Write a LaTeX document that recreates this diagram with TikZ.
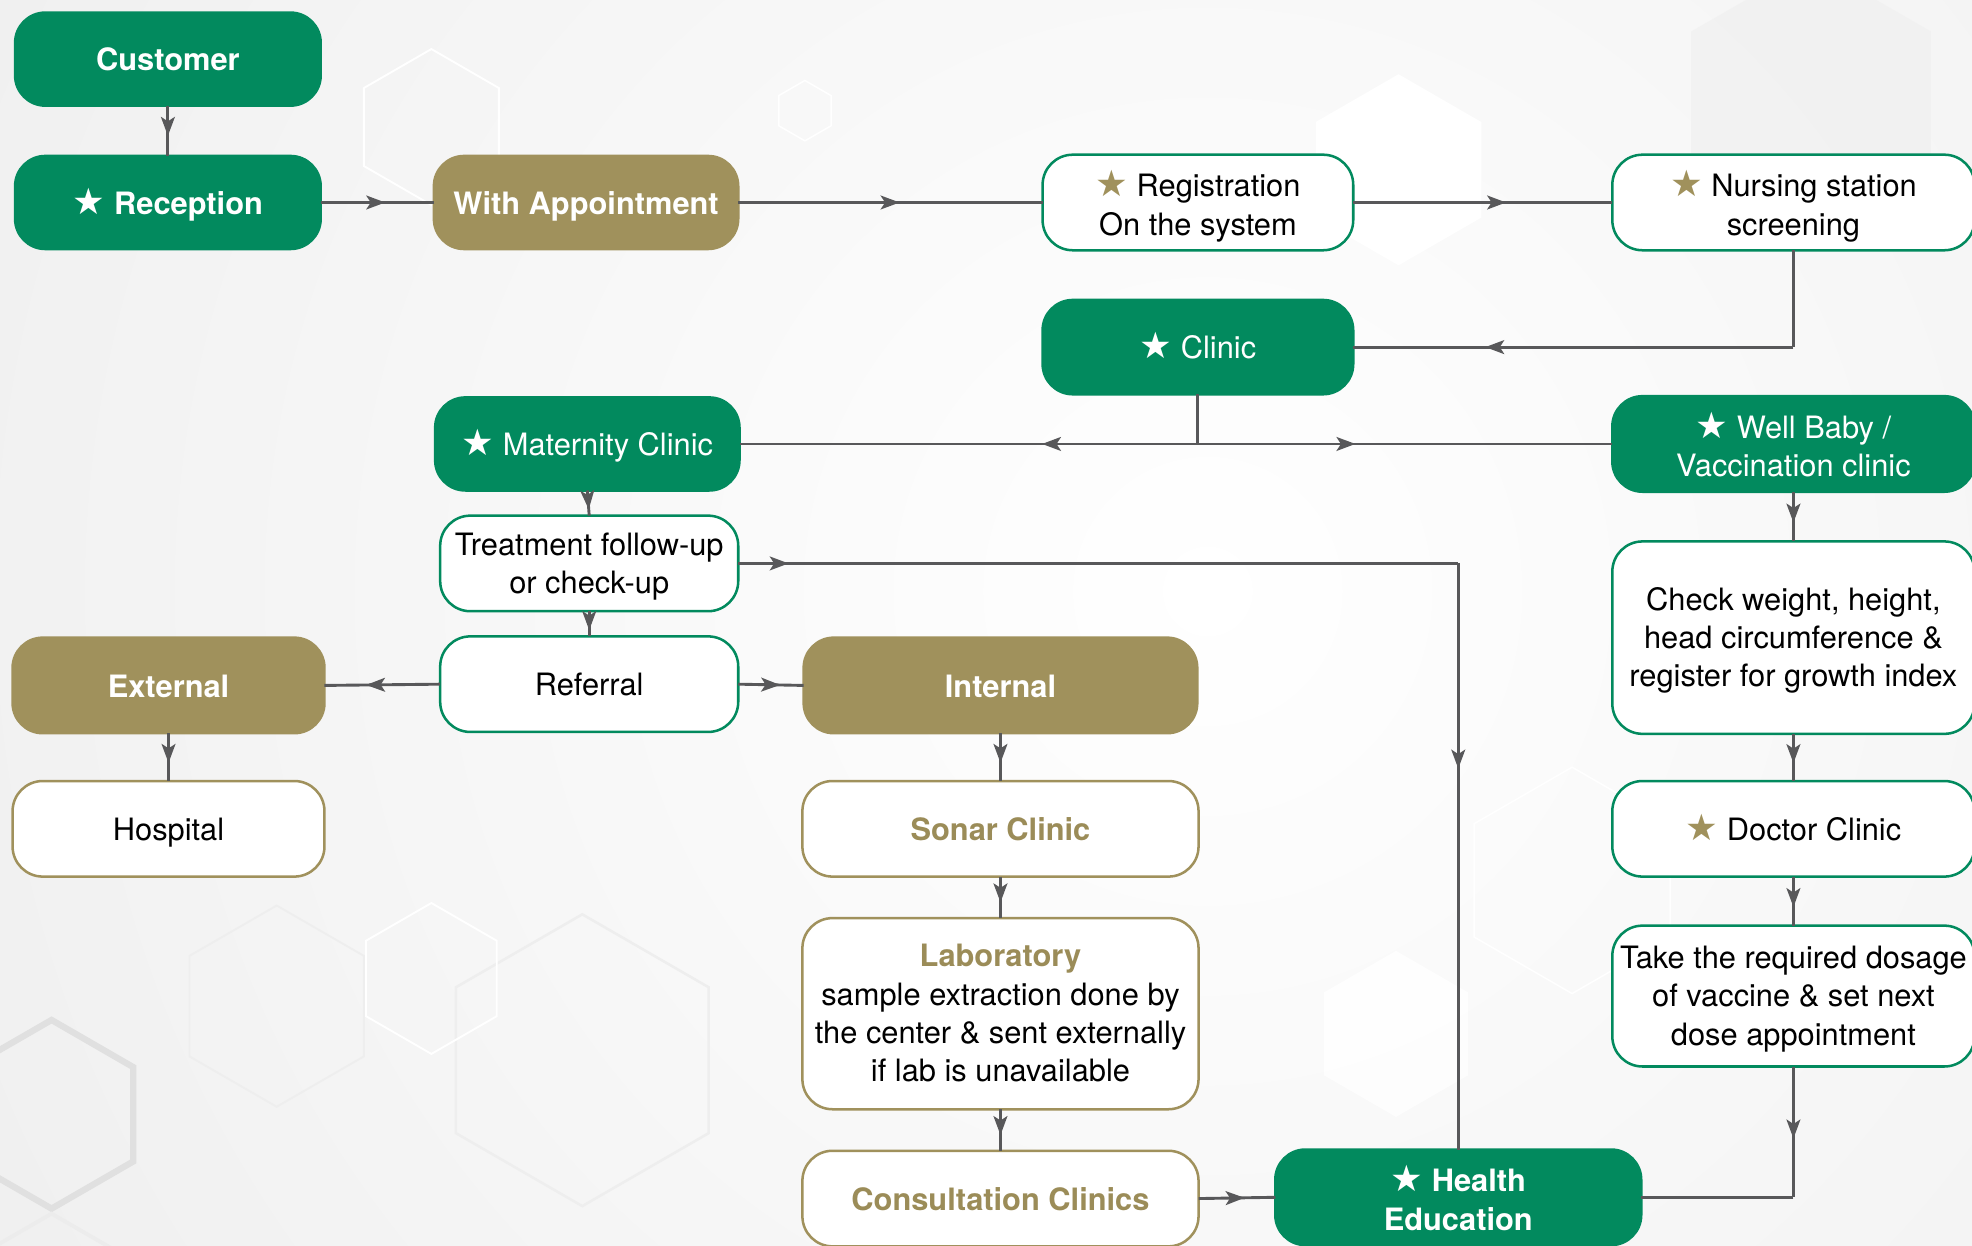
\documentclass[tikz,border=0pt]{standalone}
\usepackage{fontspec}
\setmainfont{TeX Gyre Heros}
\newfontfamily\starfont{DejaVu Sans}
\usetikzlibrary{arrows.meta,decorations.markings,calc}
\definecolor{mgreen}{RGB}{2,138,94}
\definecolor{mgold}{RGB}{160,145,92}
\definecolor{mgoldtext}{RGB}{155,140,88}
\definecolor{mline}{RGB}{88,88,90}
\definecolor{bgout}{RGB}{234,234,234}
\definecolor{hexgray}{RGB}{224,224,224}
\definecolor{hexfaint}{RGB}{238,238,238}
\newcommand{\stw}{{\starfont\fontsize{29}{29}\selectfont\color{white}★}}
\newcommand{\stg}{{\starfont\fontsize{29}{29}\selectfont\color{mgold}★}}
\newcommand{\tstrut}{\rule{0pt}{29pt}}
\newcommand{\tstrutb}{\rule{0pt}{24.5pt}}
\newcommand{\bstrut}{\rule[-7.4pt]{0pt}{0pt}}
\newcommand{\hexat}[4]{\path[#4] (#1,#2) +(30:#3) -- +(90:#3) -- +(150:#3) -- +(210:#3) -- +(270:#3) -- +(330:#3) -- cycle;}
\tikzset{
  box/.style={rectangle, rounded corners=24pt, line width=2pt, align=center,
    inner sep=0pt, outer sep=0pt, font=\fontsize{24.5}{30.5}\selectfont,
    execute at begin node={\rule{0pt}{26pt}},
    execute at end node={\rule[-7.4pt]{0pt}{0pt}}},
  gbox/.style={box, fill=mgreen, draw=mgreen, text=white},
  obox/.style={box, fill=mgold, draw=mgold, text=white, font=\fontsize{24.5}{30.5}\selectfont\bfseries},
  wgbox/.style={box, fill=white, draw=mgreen, text=black},
  wobox/.style={box, fill=white, draw=mgold, text=black},
  conn/.style={draw=mline, line width=2.3pt},
  ar/.style={postaction={decorate}, decoration={markings,
    mark=at position #1 with {\arrow[color=mline]{Stealth[length=15pt,width=11pt,inset=3.5pt]}}}},
}
\begin{document}
\begin{tikzpicture}[x=1pt,y=-1pt]
\useasboundingbox (0,0) rectangle (1568,990.7);
% background
\fill[bgout] (-5,-5) rectangle (1575,996);
\begin{scope}
\clip (0,0) rectangle (1568,991);
\shade[inner color=white, outer color=bgout] (960,470) circle (1500);
\hexat{41}{886}{75}{draw=hexgray, line width=5pt}
\hexat{41}{1040}{75}{draw=hexgray!60, line width=3pt}
\hexat{220}{800}{80}{draw=hexfaint, line width=1.5pt}
\hexat{463}{843}{116}{draw=hexfaint, line width=2pt}
\hexat{343}{778}{60}{draw=white, line width=1.5pt}
\hexat{343}{101}{62}{draw=white, line width=1.5pt}
\hexat{640}{88}{24}{draw=white, line width=1.2pt}
\hexat{1112}{135}{76}{fill=white}
\hexat{1110}{822}{66}{fill=white, opacity=0.8}
\hexat{1440}{80}{110}{fill=hexfaint, opacity=0.5}
\hexat{1250}{700}{90}{draw=white, line width=1.2pt}
\end{scope}

% nodes
\node[gbox, font=\fontsize{24.5}{30.5}\selectfont\bfseries, minimum width=243pt, minimum height=74pt] (cust) at (133.5,47) {Customer};
\node[gbox, font=\fontsize{24.5}{30.5}\selectfont\bfseries, minimum width=243pt, minimum height=74pt] (recep) at (133.5,161) {\stw\ Reception};
\node[obox, minimum width=242pt, minimum height=74pt] (appt) at (466,161) {With Appointment};
\node[wgbox, minimum width=247pt, minimum height=76pt] (reg) at (952.5,161) {\tstrut\stg\ Registration\\On the system\bstrut};
\node[wgbox, minimum width=288pt, minimum height=76pt] (nurse) at (1426,161) {\tstrut\stg\ Nursing station\\screening\bstrut};
\node[gbox, minimum width=247pt, minimum height=75pt] (clinic) at (952.5,276) {\stw\ Clinic};
\node[gbox, minimum width=242pt, minimum height=74pt] (mat) at (467,353) {\stw\ Maternity Clinic};
\node[gbox, minimum width=288pt, minimum height=76pt] (well) at (1426,353) {\tstrut\stw\ Well Baby /\\Vaccination clinic\bstrut};
\node[wgbox, minimum width=237pt, minimum height=76pt] (treat) at (468.5,448) {\tstrutb Treatment follow-up\\or check-up\bstrut};
\node[wgbox, minimum width=237pt, minimum height=76pt] (refer) at (468.5,544) {Referral};
\node[obox, minimum width=248pt, minimum height=76pt] (ext) at (134,545) {External};
\node[obox, minimum width=313pt, minimum height=76pt] (int) at (795.5,545) {Internal};
\node[wobox, minimum width=248pt, minimum height=76pt] (hosp) at (134,659) {Hospital};
\node[wobox, text=mgoldtext, font=\fontsize{24.5}{30.5}\selectfont\bfseries, minimum width=315pt, minimum height=76pt] (sonar) at (795.5,659) {Sonar Clinic};
\node[wobox, minimum width=315pt, minimum height=152pt] (lab) at (795.5,806) {\tstrutb{\color{mgoldtext}\bfseries Laboratory}\\sample extraction done by\\the center \& sent externally\\if lab is unavailable\bstrut};
\node[wobox, text=mgoldtext, font=\fontsize{24.5}{30.5}\selectfont\bfseries, minimum width=315pt, minimum height=76pt] (cons) at (795.5,953) {Consultation Clinics};
\node[gbox, font=\fontsize{24.5}{30.5}\selectfont\bfseries, minimum width=291pt, minimum height=76pt] (health) at (1159.5,952) {\tstrut\stw\ Health\\Education\bstrut};
\node[wgbox, minimum width=288pt, minimum height=153pt] (check) at (1426,507) {\tstrutb Check weight, height,\\head circumference \&\\register for growth index\bstrut};
\node[wgbox, minimum width=288pt, minimum height=76pt] (doctor) at (1426,659) {\stg\ Doctor Clinic};
\node[wgbox, minimum width=288pt, minimum height=112pt] (take) at (1426,792) {\tstrutb Take the required dosage\\of vaccine \& set next\\dose appointment\bstrut};

% junction coordinates
\coordinate (nc) at (nurse.south |- clinic.east);
\coordinate (cj) at (clinic.south |- mat.east);
\coordinate (tj) at (health.north |- treat.east);
\coordinate (hj) at (take.south |- health.east);

% connectors
\path[conn, ar=0.6] (cust.south) -- (recep.north);
\path[conn, ar=0.57] (recep.east) -- (appt.west);
\path[conn, ar=0.53] (appt.east) -- (reg.west);
\path[conn, ar=0.59] (reg.east) -- (nurse.west);
\path[conn] (nurse.south) -- (nc);
\path[conn, ar=0.7] (nc) -- (clinic.east);
\path[conn] (clinic.south) -- (cj);
\path[conn, ar=0.34] (cj) -- (mat.east);
\path[conn, ar=0.38] (cj) -- (well.west);
\path[conn, ar=0.75] (mat.south) -- (treat.north);
\path[conn, ar=0.75] (treat.south) -- (refer.north);
\path[conn, ar=0.07] (treat.east) -- (tj);
\path[conn, ar=0.35] (tj) -- (health.north);
\path[conn, ar=0.64] (refer.west) -- (ext.east);
\path[conn, ar=0.64] (refer.east) -- (int.west);
\path[conn, ar=0.62] (ext.south) -- (hosp.north);
\path[conn, ar=0.62] (int.south) -- (sonar.north);
\path[conn, ar=0.62] (sonar.south) -- (lab.north);
\path[conn, ar=0.62] (lab.south) -- (cons.north);
\path[conn, ar=0.6] (cons.east) -- (health.west);
\path[conn, ar=0.62] (well.south) -- (check.north);
\path[conn, ar=0.62] (check.south) -- (doctor.north);
\path[conn, ar=0.62] (doctor.south) -- (take.north);
\path[conn, ar=0.55] (take.south) -- (hj);
\path[conn] (hj) -- (health.east);
\end{tikzpicture}
\end{document}
